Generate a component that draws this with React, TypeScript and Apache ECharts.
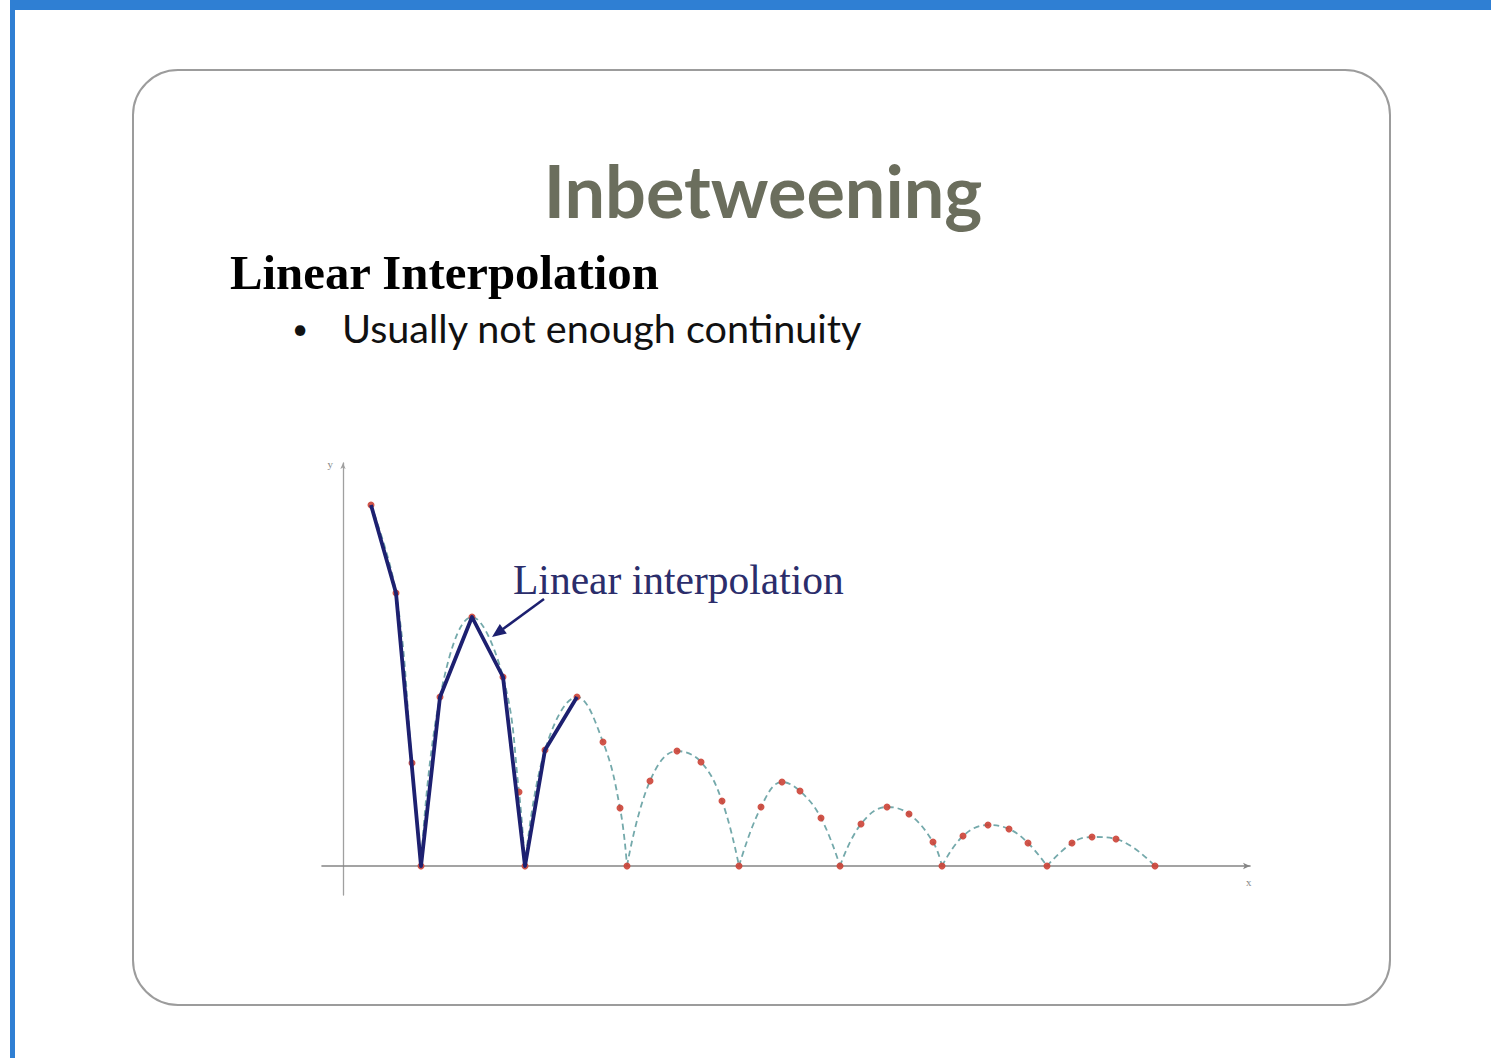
import React, { useEffect, useRef } from "react";
import * as echarts from "echarts";

// Red in-between dots (true bouncing path), x / y in chart units
const dotX: number[] = [
  2.8, 5.3, 6.9, 7.8,
  9.7, 12.9, 16.0, 17.6, 18.2,
  20.2, 23.4, 26.0, 27.7, 28.4,
  30.7, 33.4, 35.8, 37.9, 39.6,
  41.8, 43.9, 45.7, 47.8, 49.7,
  51.8, 54.4, 56.6, 59.0, 59.9,
  62.0, 64.5, 66.6, 68.5, 70.4,
  72.9, 74.9, 77.3, 81.2,
];
const dotY: number[] = [
  36.1, 27.3, 10.3, 0,
  16.9, 24.9, 18.9, 7.4, 0,
  11.6, 16.9, 12.4, 5.8, 0,
  8.5, 11.5, 10.4, 6.5, 0,
  5.9, 8.4, 7.5, 4.8, 0,
  4.2, 5.9, 5.2, 2.4, 0,
  3.0, 4.1, 3.7, 2.3, 0,
  2.3, 2.9, 2.7, 0,
];

// Linear interpolation keyframes
const linX: number[] = [2.8, 5.3, 7.8, 9.7, 12.9, 16.0, 18.2, 20.2, 23.4];
const linY: number[] = [36.1, 27.3, 0, 16.9, 24.9, 18.9, 0, 11.6, 16.9];

const titleText = "Inbetweening";
const headingText = "Linear Interpolation";
const bulletText = "Usually not enough continuity";
const annotationText = "Linear interpolation";
const xName = "x";
const yName = "y";

export default function App() {
  const ref = useRef<HTMLDivElement>(null);

  useEffect(() => {
    if (!ref.current) return;
    const chart = echarts.init(ref.current, undefined, { renderer: "svg" });

    // split the true path into arcs at ground contacts (cusps)
    const arcs: number[][][] = [];
    let cur: number[][] = [];
    dotX.forEach((x, i) => {
      cur.push([x, dotY[i]]);
      if (dotY[i] === 0) {
        arcs.push(cur);
        cur = [[x, dotY[i]]];
      }
    });
    if (cur.length > 1) arcs.push(cur);

    const arcSeries = arcs.map((a) => ({
      type: "line",
      data: a,
      smooth: 0.4,
      symbol: "none",
      silent: true,
      z: 1,
      lineStyle: { color: "#74a9ab", width: 1.8, type: [6, 4] },
    }));

    const navy = "#1d2070";
    const tip = [492, 637];

    chart.setOption({
      animation: false,
      backgroundColor: "#ffffff",
      grid: { left: 322, right: 241, top: 463, bottom: 163, containLabel: false },
      xAxis: {
        type: "value",
        min: -2.1,
        max: 90.7,
        name: xName,
        nameLocation: "end",
        nameGap: -4,
        nameTextStyle: {
          color: "#888",
          fontSize: 11,
          fontFamily: "Liberation Serif",
          verticalAlign: "top",
          padding: [10, 0, 0, 0],
        },
        axisLine: {
          onZero: true,
          symbol: ["none", "arrow"],
          symbolSize: [5, 7],
          lineStyle: { color: "#858585", width: 1.6 },
        },
        axisTick: { show: false },
        axisLabel: { show: false },
        splitLine: { show: false },
      },
      yAxis: {
        type: "value",
        min: -2.9,
        max: 40.3,
        name: yName,
        nameLocation: "end",
        nameGap: -6,
        nameTextStyle: {
          color: "#888",
          fontSize: 11,
          fontFamily: "Liberation Serif",
          align: "right",
          padding: [0, 10, 0, 0],
        },
        axisLine: {
          onZero: true,
          symbol: ["none", "arrow"],
          symbolSize: [4, 6],
          lineStyle: { color: "#a0a0a0", width: 1.3 },
        },
        axisTick: { show: false },
        axisLabel: { show: false },
        splitLine: { show: false },
      },
      series: [
        ...arcSeries,
        {
          type: "scatter",
          data: dotX.map((x, i) => [x, dotY[i]]),
          symbolSize: 7,
          z: 2,
          itemStyle: { color: "#cc4236", opacity: 0.9 },
        },
        {
          type: "line",
          data: linX.map((x, i) => [x, linY[i]]),
          symbol: "none",
          z: 3,
          lineStyle: { color: navy, width: 3.8, join: "round" },
        },
      ],
      graphic: [
        { type: "rect", shape: { x: 10, y: 0, width: 1481, height: 10 }, style: { fill: "#2f7fd3" }, z: 0 },
        { type: "rect", shape: { x: 10, y: 0, width: 5, height: 1058 }, style: { fill: "#2f7fd3" }, z: 0 },
        {
          type: "rect",
          shape: { x: 133, y: 70, width: 1257, height: 935, r: 45 },
          style: { fill: "none", stroke: "#9c9c9c", lineWidth: 2 },
          z: 0,
        },
        {
          type: "text",
          x: 763,
          y: 190,
          style: {
            text: titleText,
            fill: "#6b6e5d",
            font: "bold 72px Lato",
            align: "center",
            verticalAlign: "middle",
          },
        },
        {
          type: "text",
          x: 230,
          y: 273,
          style: {
            text: headingText,
            fill: "#000000",
            font: "bold 48.8px 'Liberation Serif'",
            align: "left",
            verticalAlign: "middle",
          },
        },
        {
          type: "text",
          x: 300,
          y: 328,
          style: { text: "•", fill: "#111", font: "28px Lato", align: "center", verticalAlign: "middle" },
        },
        {
          type: "text",
          x: 342,
          y: 327,
          style: {
            text: bulletText,
            fill: "#111111",
            font: "39.6px Lato",
            align: "left",
            verticalAlign: "middle",
          },
        },
        {
          type: "text",
          x: 513,
          y: 580,
          style: {
            text: annotationText,
            fill: "#2b2d6b",
            font: "41.5px 'Liberation Serif'",
            align: "left",
            verticalAlign: "middle",
          },
        },
        {
          type: "line",
          shape: { x1: 544, y1: 599, x2: 503, y2: 629 },
          style: { stroke: navy, lineWidth: 2.5 },
          z: 10,
        },
        {
          type: "polygon",
          shape: { points: [tip, [506.8, 633.5], [499.8, 623.9]] },
          style: { fill: navy },
          z: 10,
        },
      ],
    });

    return () => chart.dispose();
  }, []);

  return (
    <div
      ref={ref}
      style={{ position: "absolute", left: 0, top: 0, width: 1491, height: 1058, background: "#fff" }}
    />
  );
}
